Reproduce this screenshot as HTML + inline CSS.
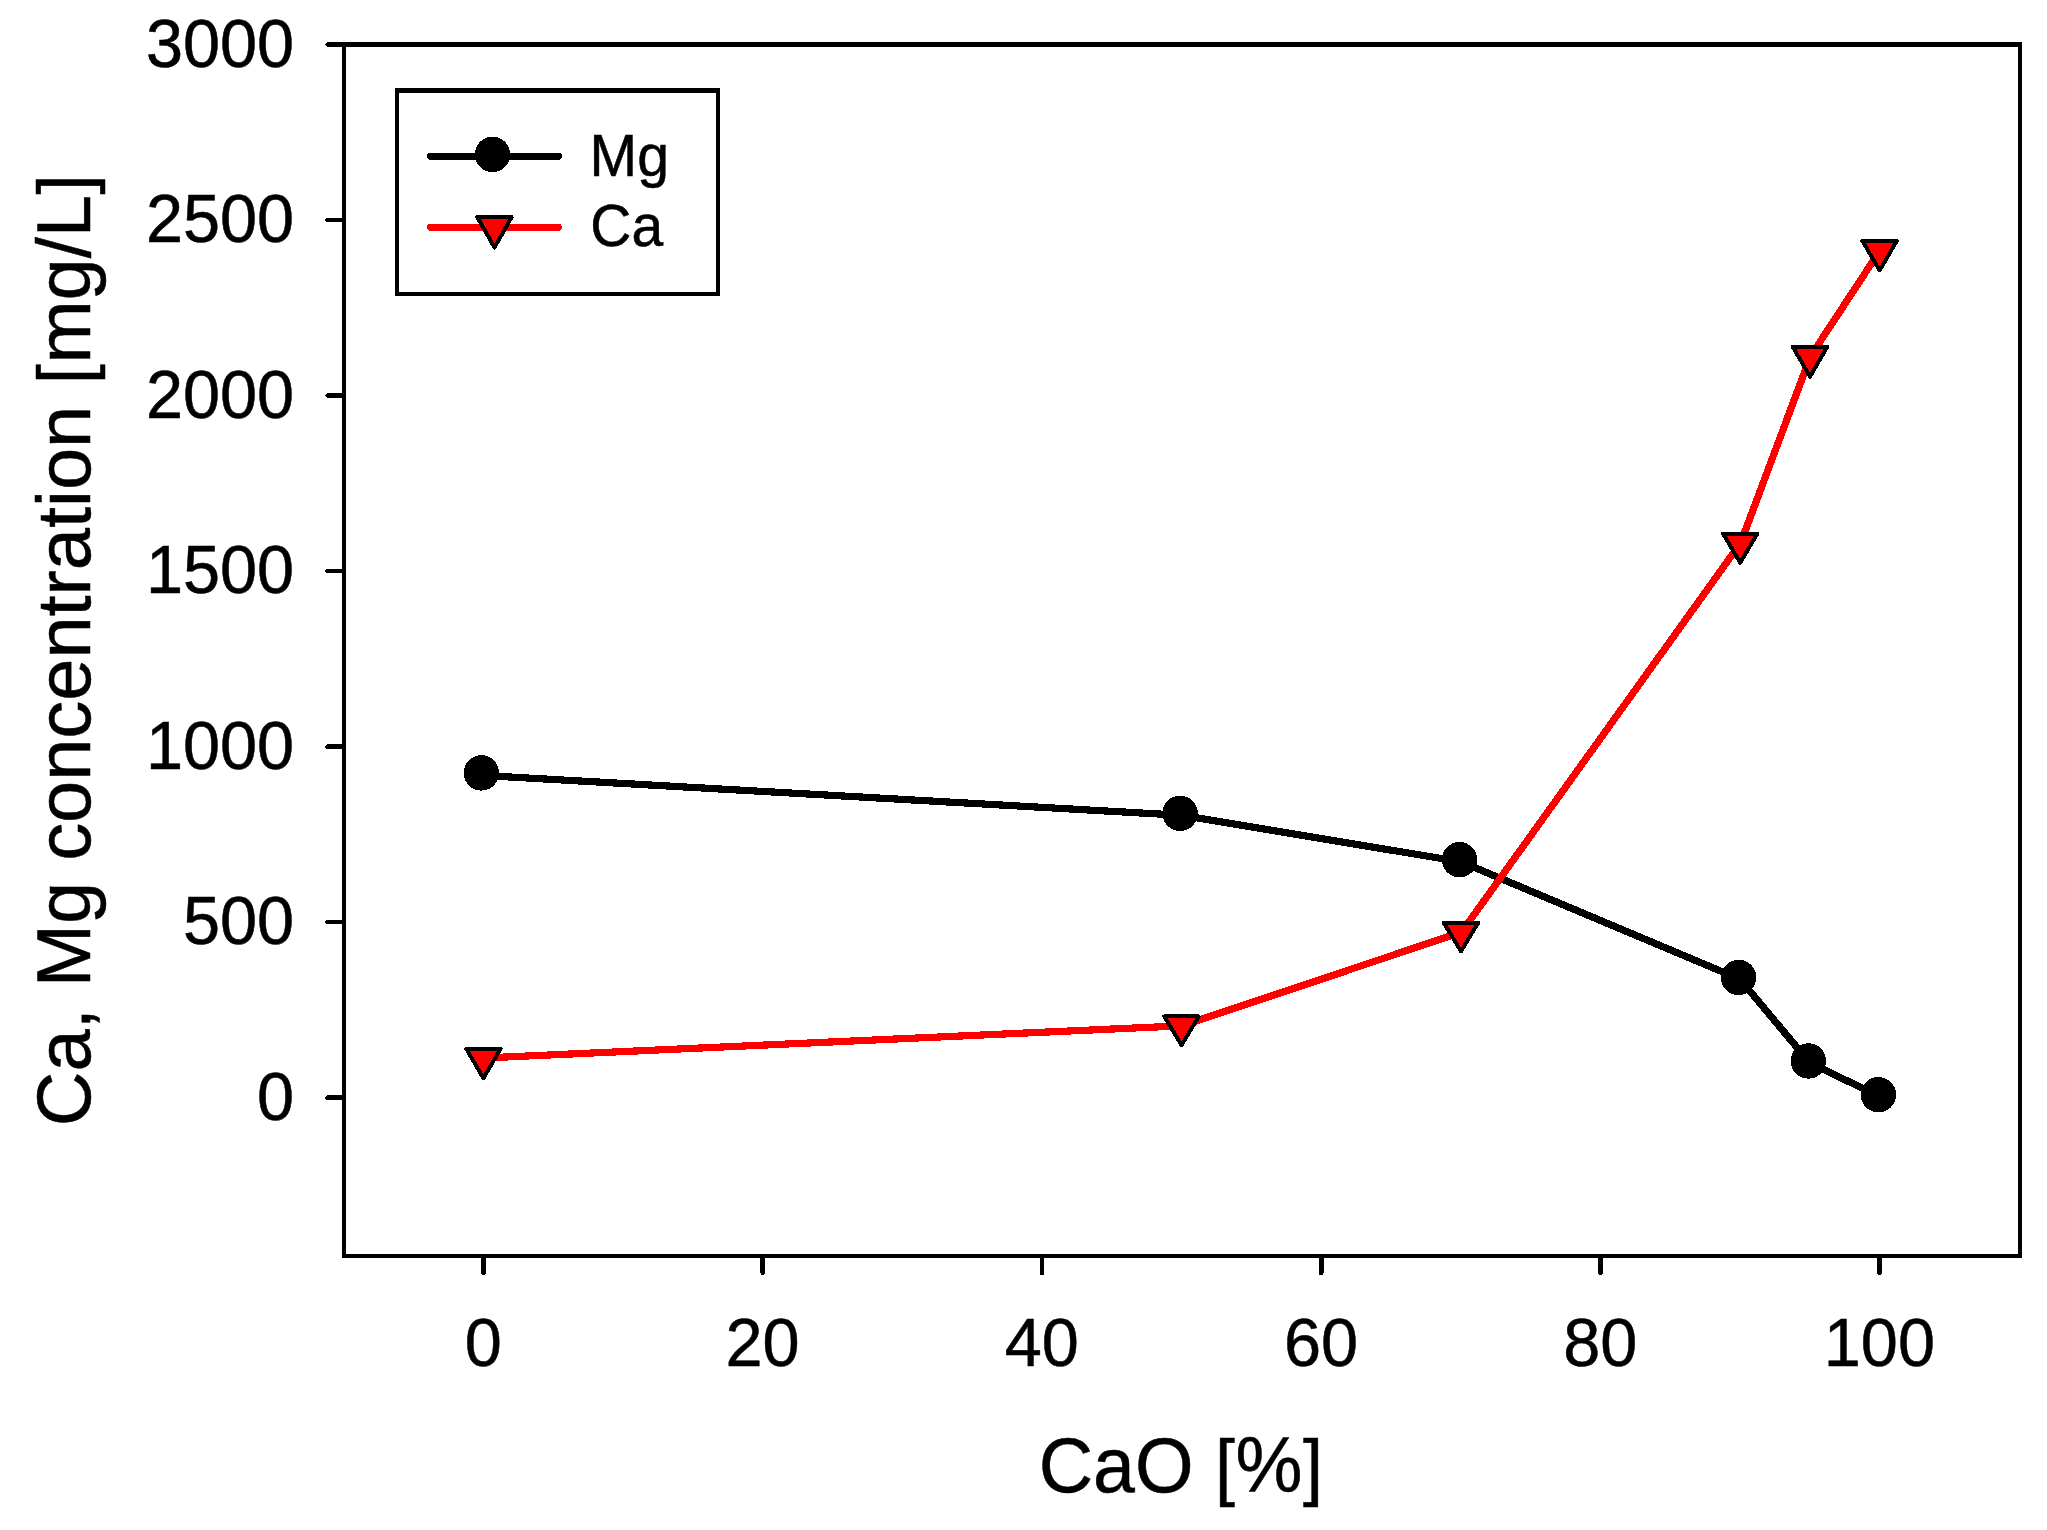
<!DOCTYPE html>
<html lang="en"><head><meta charset="utf-8"><title>Ca, Mg concentration vs CaO</title>
<style>html,body{margin:0;padding:0;background:#fff;}body{width:2047px;height:1530px;overflow:hidden;}svg{display:block;}text{font-family:"Liberation Sans",Arial,sans-serif;fill:#000;}</style></head><body>
<svg width="2047" height="1530" viewBox="0 0 2047 1530">
<rect x="0" y="0" width="2047" height="1530" fill="#fff"/>
<g shape-rendering="crispEdges">
<g stroke="#000" stroke-width="4.6" fill="none" stroke-linecap="butt">
<line x1="342.0" y1="44.4" x2="2022.0" y2="44.4"/>
<line x1="342.0" y1="1255.8" x2="2022.0" y2="1255.8"/>
</g>
<g stroke="#000" stroke-width="4" fill="none">
<line x1="344.0" y1="44.4" x2="344.0" y2="1255.8"/>
<line x1="2020.0" y1="44.4" x2="2020.0" y2="1255.8"/>
</g>
<g stroke="#000" stroke-width="4.6" stroke-linecap="round">
<line x1="327.5" y1="44.5" x2="344.0" y2="44.5"/>
<line x1="327.5" y1="220.0" x2="344.0" y2="220.0"/>
<line x1="327.5" y1="395.5" x2="344.0" y2="395.5"/>
<line x1="327.5" y1="571.1" x2="344.0" y2="571.1"/>
<line x1="327.5" y1="746.6" x2="344.0" y2="746.6"/>
<line x1="327.5" y1="922.1" x2="344.0" y2="922.1"/>
<line x1="327.5" y1="1097.6" x2="344.0" y2="1097.6"/>
</g>
<g stroke="#000" stroke-width="4.6" stroke-linecap="round">
<line x1="483.5" y1="1255.8" x2="483.5" y2="1273"/>
<line x1="762.7" y1="1255.8" x2="762.7" y2="1273"/>
<line x1="1041.9" y1="1255.8" x2="1041.9" y2="1273"/>
<line x1="1321.2" y1="1255.8" x2="1321.2" y2="1273"/>
<line x1="1600.4" y1="1255.8" x2="1600.4" y2="1273"/>
<line x1="1879.6" y1="1255.8" x2="1879.6" y2="1273"/>
</g>
<rect x="397" y="90" width="321" height="204" fill="#fff" stroke="#000" stroke-width="4"/>
<rect x="395" y="88" width="325" height="5" fill="#000"/>
<polyline fill="none" stroke="#000" stroke-width="7.2" stroke-linejoin="round" stroke-linecap="round" points="483.5,775.5 1181.5,815.3 1460.8,861.7 1740.0,979.2 1809.8,1062.8 1879.6,1096.5"/>
<circle cx="481.4" cy="772.9" r="17.7" fill="#000"/>
<circle cx="1180.1" cy="813.3" r="17.7" fill="#000"/>
<circle cx="1459.5" cy="859.7" r="17.7" fill="#000"/>
<circle cx="1738.6" cy="977.4" r="17.7" fill="#000"/>
<circle cx="1808.4" cy="1061.0" r="17.7" fill="#000"/>
<circle cx="1878.4" cy="1094.7" r="17.7" fill="#000"/>
<polyline fill="none" stroke="#f00" stroke-width="7.2" stroke-linejoin="round" stroke-linecap="round" points="483.9,1058.0 1182.0,1025.8 1461.5,932.2 1740.7,542.9 1810.5,356.3 1880.1,250.3"/>
<polygon points="466.2,1048.6 500.6,1048.6 483.4,1078.3" fill="#f00" stroke="#000" stroke-width="4" stroke-linejoin="round"/>
<polygon points="1164.2,1016.4 1198.7,1016.4 1181.5,1045.2" fill="#f00" stroke="#000" stroke-width="4" stroke-linejoin="round"/>
<polygon points="1443.8,922.8 1478.2,922.8 1461.0,951.3" fill="#f00" stroke="#000" stroke-width="4" stroke-linejoin="round"/>
<polygon points="1723.0,533.5 1757.4,533.5 1740.2,562.8" fill="#f00" stroke="#000" stroke-width="4" stroke-linejoin="round"/>
<polygon points="1792.8,346.9 1827.2,346.9 1810.0,376.6" fill="#f00" stroke="#000" stroke-width="4" stroke-linejoin="round"/>
<polygon points="1862.4,240.9 1896.8,240.9 1879.6,270.4" fill="#f00" stroke="#000" stroke-width="4" stroke-linejoin="round"/>
<line x1="430.7" y1="156.4" x2="558.3" y2="156.4" stroke="#000" stroke-width="7.3" stroke-linecap="round"/>
<circle cx="492.5" cy="154.4" r="17.7" fill="#000"/>
<line x1="430.7" y1="227.4" x2="558.3" y2="227.4" stroke="#f00" stroke-width="7.2" stroke-linecap="round"/>
<polygon points="477.3,217.1 511.7,217.1 494.5,247.5" fill="#f00" stroke="#000" stroke-width="4" stroke-linejoin="round"/>
</g>
<g stroke="#000" stroke-width="0.5">
<text transform="translate(294.2,66.6) scale(1,1.04)" font-size="66.67px" text-anchor="end">3000</text>
<text transform="translate(294.2,242.1) scale(1,1.04)" font-size="66.67px" text-anchor="end">2500</text>
<text transform="translate(294.2,417.6) scale(1,1.04)" font-size="66.67px" text-anchor="end">2000</text>
<text transform="translate(294.2,593.2) scale(1,1.04)" font-size="66.67px" text-anchor="end">1500</text>
<text transform="translate(294.2,768.7) scale(1,1.04)" font-size="66.67px" text-anchor="end">1000</text>
<text transform="translate(294.2,944.2) scale(1,1.04)" font-size="66.67px" text-anchor="end">500</text>
<text transform="translate(294.2,1119.7) scale(1,1.04)" font-size="66.67px" text-anchor="end">0</text>
<text transform="translate(483.3,1365.6) scale(1,1.04)" font-size="66.67px" text-anchor="middle">0</text>
<text transform="translate(762.5,1365.6) scale(1,1.04)" font-size="66.67px" text-anchor="middle">20</text>
<text transform="translate(1041.7,1365.6) scale(1,1.04)" font-size="66.67px" text-anchor="middle">40</text>
<text transform="translate(1321.0,1365.6) scale(1,1.04)" font-size="66.67px" text-anchor="middle">60</text>
<text transform="translate(1600.2,1365.6) scale(1,1.04)" font-size="66.67px" text-anchor="middle">80</text>
<text transform="translate(1879.4,1365.6) scale(1,1.04)" font-size="66.67px" text-anchor="middle">100</text>
<text transform="translate(589.6,176.0) scale(1,1.025)" font-size="57.2px" text-anchor="start">Mg</text>
<text transform="translate(590.3,246.4) scale(1,1.025)" font-size="57.0px" text-anchor="start">Ca</text>
<text transform="translate(1180.8,1491.5) scale(1,1.03)" font-size="75.3px" text-anchor="middle">CaO <tspan font-size="71.9px" dx="0.5">[</tspan><tspan dx="0.5">%</tspan><tspan font-size="71.9px" dx="0.5">]</tspan></text>
<text transform="translate(90.0,650.3) rotate(-90) scale(1,1.012)" font-size="75.8px" text-anchor="middle">Ca, Mg concentration <tspan font-size="72.6px" dx="0.5">[</tspan><tspan dx="0.5">mg/L</tspan><tspan font-size="72.6px" dx="0.5">]</tspan></text>
</g>
</svg></body></html>
